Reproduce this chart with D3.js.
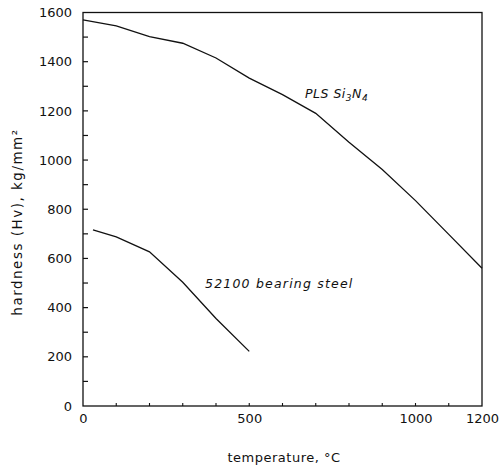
<!DOCTYPE html>
<html><head><meta charset="utf-8">
<script src="https://cdn.jsdelivr.net/npm/d3@7"></script>
<style>body{margin:0;background:#fff}svg{display:block}text{font-family:"DejaVu Sans",sans-serif;fill:#111}</style>
</head><body>
<script>
const si3n4Temps = [0,100,200,300,400,500,600,700,800,900,1000,1100,1200];
const si3n4Hardness = [1570,1546,1502,1475,1415,1333,1266,1190,1072,962,835,698,560];
const steelTemps = [30,100,200,300,400,500];
const steelHardness = [716,688,627,503,356,222];
const xTicks = [0,500,1000,1200];
const yTicks = [0,200,400,600,800,1000,1200,1400,1600];
const labels = {steel: "52100 bearing steel", xTitle: "temperature, °C", yTitle: "hardness (Hv), kg/mm²"};

const W=500,H=466;
const svg=d3.select("body").append("svg").attr("width",W).attr("height",H);
const x=d3.scaleLinear().domain([0,1200]).range([83,482]);
const y=d3.scaleLinear().domain([0,1600]).range([406,12.5]);

// frame
const g=svg.append("g").attr("stroke","#111").attr("stroke-width",1.3).attr("fill","none");
g.append("rect").attr("x",x(0)).attr("y",y(1600)).attr("width",x(1200)-x(0)).attr("height",y(0)-y(1600));

// minor ticks
const yMinor=d3.range(100,1600,100);
svg.append("g").selectAll("line").data(yMinor).join("line")
 .attr("x1",x(0)).attr("x2",x(0)+5).attr("y1",d=>y(d)).attr("y2",d=>y(d)).attr("stroke","#111").attr("stroke-width",1.2);
const xMinor=d3.range(100,1200,100);
svg.append("g").selectAll("line").data(xMinor).join("line")
 .attr("x1",d=>x(d)).attr("x2",d=>x(d)).attr("y1",y(0)).attr("y2",y(0)-3).attr("stroke","#111").attr("stroke-width",1.1);

// axes tick labels
const fmt=d3.format("d");
const yAxis=d3.axisLeft(y).tickValues(yTicks).tickFormat(fmt).tickSize(0).tickPadding(11);
const ya=svg.append("g").attr("transform",`translate(${x(0)},0)`).call(yAxis);
ya.select(".domain").remove();
ya.selectAll("text").style("font-size","13px").style("font-family","DejaVu Sans").attr("fill","#111");
const xAxis=d3.axisBottom(x).tickValues(xTicks).tickFormat(fmt).tickSize(0).tickPadding(8);
const xa=svg.append("g").attr("transform",`translate(0,${y(0)})`).call(xAxis);
xa.select(".domain").remove();
xa.selectAll("text").style("font-size","13px").style("font-family","DejaVu Sans").attr("fill","#111");

// lines
const line=d3.line().x(d=>x(d[0])).y(d=>y(d[1]));
svg.append("path").datum(si3n4Temps.map((t,i)=>[t,si3n4Hardness[i]])).attr("d",line)
 .attr("fill","none").attr("stroke","#111").attr("stroke-width",1.3);
svg.append("path").datum(steelTemps.map((t,i)=>[t,steelHardness[i]])).attr("d",line)
 .attr("fill","none").attr("stroke","#111").attr("stroke-width",1.3);

// series labels
const t1=svg.append("text").attr("x",305).attr("y",98).style("font-size","12.5px").style("font-style","italic").style("letter-spacing","0.5px");
t1.append("tspan").text("PLS Si");
t1.append("tspan").attr("dy",3).style("font-size","9px").text("3");
t1.append("tspan").attr("dy",-3).text("N");
t1.append("tspan").attr("dy",3).style("font-size","9px").text("4");
svg.append("text").attr("x",205).attr("y",288).style("font-size","12.5px").style("font-style","italic").style("letter-spacing","1.2px").text(labels.steel);

// axis titles
svg.append("text").attr("x",284).attr("y",462).attr("text-anchor","middle").style("font-size","13px").style("letter-spacing","0.5px").text(labels.xTitle);
svg.append("text").attr("transform","translate(22,222) rotate(-90)").attr("text-anchor","middle").style("font-size","13.5px").style("letter-spacing","1.5px").text(labels.yTitle);
</script>
</body></html>
